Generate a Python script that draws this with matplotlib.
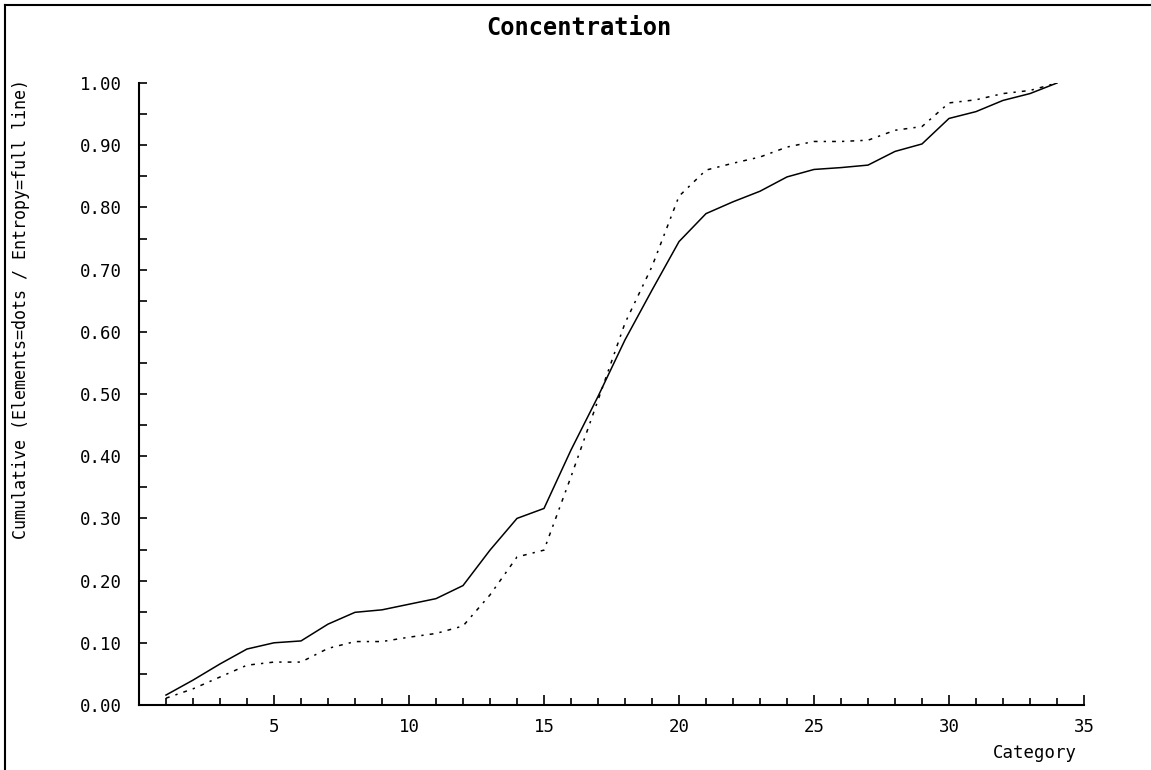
import matplotlib
matplotlib.use("Agg")
import matplotlib.pyplot as plt
from matplotlib.lines import Line2D
from matplotlib.ticker import MultipleLocator, FormatStrFormatter

# %%
# Cumulative shares per category.
category = list(range(1, 35))
entropy = [0.016, 0.040, 0.066, 0.090, 0.100, 0.103, 0.130, 0.149, 0.153, 0.162,
           0.171, 0.192, 0.249, 0.300, 0.316, 0.410, 0.496, 0.587, 0.667, 0.745,
           0.790, 0.809, 0.826, 0.849, 0.861, 0.864, 0.868, 0.890, 0.902, 0.943,
           0.954, 0.972, 0.983, 1.000]
elements = [0.011, 0.026, 0.045, 0.064, 0.069, 0.069, 0.091, 0.102, 0.102, 0.109,
            0.115, 0.127, 0.177, 0.238, 0.249, 0.367, 0.490, 0.614, 0.705, 0.818,
            0.860, 0.871, 0.881, 0.897, 0.906, 0.906, 0.908, 0.924, 0.930, 0.968,
            0.973, 0.983, 0.988, 1.000]

plt.rcParams["font.family"] = ["DejaVu Sans Mono"]

fig = plt.figure(figsize=(11.51, 7.70), dpi=100)
ax = fig.add_axes([139 / 1151, 65 / 770, 945 / 1151, 622 / 770])

ax.plot(category, entropy, color="black", lw=1.1)
ax.plot(category, elements, color="black", lw=1.1, linestyle=(0, (2.5, 4, 1.5, 4)))

ax.set_xlim(0, 35)
ax.set_ylim(0, 1)
for side in ("top", "right"):
    ax.spines[side].set_visible(False)
for side in ("left", "bottom"):
    ax.spines[side].set_linewidth(1.5)

ax.xaxis.set_major_locator(MultipleLocator(5))
ax.xaxis.set_minor_locator(MultipleLocator(1))
ax.yaxis.set_major_locator(MultipleLocator(0.1))
ax.yaxis.set_minor_locator(MultipleLocator(0.05))
ax.yaxis.set_major_formatter(FormatStrFormatter("%.2f"))
ax.set_xticks([5, 10, 15, 20, 25, 30, 35])
ax.tick_params(axis="x", which="major", direction="in", length=7, width=1.2, pad=9, labelsize=12.5)
ax.tick_params(axis="x", which="minor", direction="in", length=5, width=1.2)
ax.tick_params(axis="y", which="both", direction="in", length=6, width=1.2, pad=12, labelsize=12.5)

fig.text(579 / 1151, 1 - 28 / 770, "Concentration", ha="center", va="center",
         fontsize=17, fontweight="bold")
fig.text(21 / 1151, 1 - 309 / 770, "Cumulative (Elements=dots / Entropy=full line)",
         rotation=90, ha="center", va="center", fontsize=12)
fig.text(1077 / 1151, 1 - 753 / 770, "Category", ha="right", va="center", fontsize=12.5)

# outer frame on the left and top edges
fig.add_artist(Line2D([4.5 / 1151, 4.5 / 1151], [0, 1 - 5 / 770], color="black", lw=1.5))
fig.add_artist(Line2D([4.5 / 1151, 1], [1 - 5 / 770, 1 - 5 / 770], color="black", lw=1.5))

fig.savefig("out.png", dpi=100)
